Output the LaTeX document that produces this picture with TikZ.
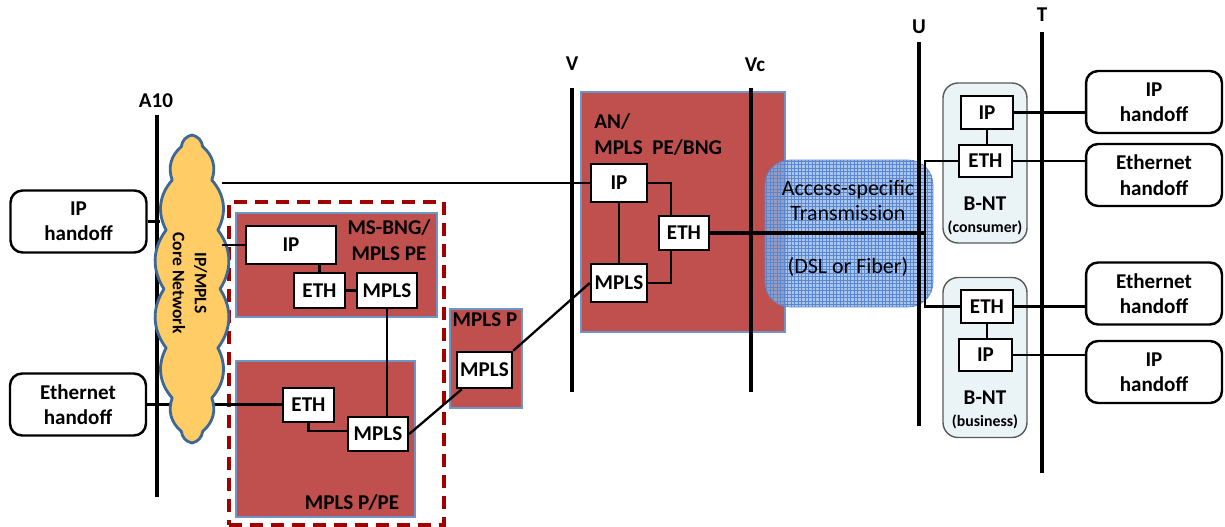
\documentclass[tikz,border=0pt]{standalone}
\usepackage{fontspec}
\setmainfont{Carlito}
\usetikzlibrary{calc}
\definecolor{boxred}{HTML}{C0504D}
\definecolor{boxedge}{HTML}{6E95C8}
\definecolor{framered}{HTML}{A00000}
\definecolor{cloudfill}{HTML}{FFCC66}
\definecolor{cloudedge}{HTML}{3D6797}
\definecolor{accfill}{HTML}{8FB3E6}
\definecolor{accgrid}{HTML}{5B87CF}
\definecolor{bntfill}{HTML}{EAF4F7}
\tikzset{
    protobox/.style={
        draw,
        fill=white,
        line width=1.4pt,
        inner sep=0pt,
        minimum height=0.7cm,
        font=\fontsize{12}{14}\selectfont\bfseries
    },
    handoff/.style={
        draw,
        fill=white,
        rounded corners=0.24cm,
        line width=1.4pt,
        minimum width=2.72cm,
        minimum height=1.24cm,
        align=center,
        font=\fontsize{12}{14.5}\selectfont\bfseries
    },
    element/.style={draw=boxedge, fill=boxred, line width=0.6pt, inner sep=0pt},
    ellabel/.style={inner sep=0pt, font=\fontsize{12}{15}\selectfont\bfseries},
    bnt/.style={draw=black!65, fill=bntfill, line width=0.8pt, rounded corners=0.3cm,
        minimum width=1.68cm, minimum height=3.2cm},
    refline/.style={line width=2.8pt},
    reflabel/.style={font=\fontsize{12}{14}\selectfont\bfseries},
    link/.style={line width=1.3pt}
}

\begin{document}
\begin{tikzpicture}[x=0.02cm, y=-0.02cm]
    \useasboundingbox (0,0) rectangle (1225,527);

    % network elements
    \node[draw=framered, line width=2.2pt, dash pattern=on 0.26cm off 0.16cm,
        minimum width=4.3cm, minimum height=6.46cm, inner sep=0pt] (peframe) at (336.5,363.5) {};
    \node[element, minimum width=4.02cm, minimum height=2.08cm] (msbng) at (336.5,265) {};
    \node[element, minimum width=3.58cm, minimum height=3.12cm] (ppe) at (325.5,439) {};
    \node[element, minimum width=1.44cm, minimum height=1.98cm] (mplsp) at (486,358.5) {};
    \node[element, minimum width=4.08cm, minimum height=4.8cm] (an) at (683,212) {};

    \node[ellabel, align=center] (msbnglbl) at (389,240) {MS-BNG/\\MPLS PE};
    \node[ellabel] (ppelbl) at (352,503) {MPLS P/PE};
    \node[ellabel] (mplsplbl) at (485,320) {MPLS P};
    \node[ellabel, align=left, anchor=west] (anlbl) at (594,134.5) {AN/\\MPLS\ \ PE/BNG};

    % access transmission
    \node[draw=accgrid, fill=accfill, fill opacity=0.75, rounded corners=0.5cm,
        minimum width=3.36cm, minimum height=2.94cm] (acc) at (849,233.5) {};
    \begin{scope}
        \clip[rounded corners=0.5cm] (acc.south west) rectangle (acc.north east);
        \draw[accgrid, line width=0.25pt] (acc.south west) grid[step=0.07cm] (acc.north east);
    \end{scope}
    \node[align=center, font=\fontsize{12.5}{14.2}\selectfont] (acctxt) at (848,200.5) {Access-specific\\Transmission};
    \node[font=\fontsize{12.5}{14.2}\selectfont] (accmedia) at (848,267) {(DSL or Fiber)};

    \node[bnt] (bntc) at (985,163) {};
    \node[bnt] (bntb) at (985,357.5) {};
    \node[align=center, font=\fontsize{12}{12.5}\selectfont\bfseries] (bntclbl) at (985,216)
        {B-NT\\{\fontsize{9}{10}\selectfont(consumer)}};
    \node[align=center, font=\fontsize{12}{12.5}\selectfont\bfseries] (bntblbl) at (985,409.5)
        {B-NT\\{\fontsize{9}{10}\selectfont(business)}};

    % reference points
    \foreach \name/\x/\ya/\yb/\lx/\ly in {A10/157/115/497/156/101, V/572/88/392/572/64,
        Vc/751/88/392/755/65, U/919/42/426/919/27, T/1042/32/473/1042/15} {
        \coordinate (\name top) at (\x,\ya);
        \coordinate (\name bot) at (\x,\yb);
        \draw[refline] (\name top) -- (\name bot);
        \node[reflabel] (\name lbl) at (\lx,\ly) {\name};
    }

    % protocol boxes
    \node[protobox, minimum width=1.8cm, minimum height=0.76cm] (msIP) at (291,245) {IP};
    \node[protobox, minimum width=1.02cm] (msETH) at (319.5,290.5) {ETH};
    \node[protobox, minimum width=1.2cm] (msMPLS) at (387,290.5) {MPLS};
    \node[protobox, minimum width=1.02cm, minimum height=0.68cm] (ppeETH) at (308.5,405) {ETH};
    \node[protobox, minimum width=1.2cm, minimum height=0.68cm] (ppeMPLS) at (378,434) {MPLS};
    \node[protobox, minimum width=1.1cm, minimum height=0.72cm] (pMPLS) at (484.5,370) {MPLS};
    \node[protobox, minimum width=1.12cm, minimum height=0.76cm] (anIP) at (619,183) {IP};
    \node[protobox, minimum width=1.0cm, minimum height=0.68cm] (anETH) at (684,233) {ETH};
    \node[protobox, minimum width=1.12cm, minimum height=0.76cm] (anMPLS) at (619,283) {MPLS};
    \node[protobox, minimum width=1.04cm, minimum height=0.66cm] (bcIP) at (987,112.5) {IP};
    \node[protobox, minimum width=1.06cm, minimum height=0.64cm] (bcETH) at (985.5,161) {ETH};
    \node[protobox, minimum width=1.04cm, minimum height=0.66cm] (bbETH) at (987,306.5) {ETH};
    \node[protobox, minimum width=1.06cm, minimum height=0.64cm] (bbIP) at (985.5,355) {IP};

    % handoffs
    \node[handoff] (hoIPL) at (78.5,221.5) {IP\\handoff};
    \node[handoff] (hoEthL) at (78,404.5) {Ethernet\\handoff};
    \node[handoff] (hoIPa) at (1154,102) {IP\\handoff};
    \node[handoff] (hoEtha) at (1154,175) {Ethernet\\handoff};
    \node[handoff] (hoEthb) at (1154,293.5) {Ethernet\\handoff};
    \node[handoff] (hoIPb) at (1154,372) {IP\\handoff};

    % links
    \draw[link] (hoIPL.east) -- ([xshift=0.06cm]hoIPL.east -| A10top);
    \draw[link] (hoEthL.east) -- (hoEthL.east -| ppeETH.west);
    \draw[link] (msIP.south -| msETH.north) -- (msETH.north);
    \draw[link] (msETH) -- (msMPLS);
    \draw[link] (msMPLS.south) -- (msMPLS.south |- ppeMPLS.north);
    \draw[link] (ppeETH.south) |- ([yshift=0.06cm]ppeMPLS.west);
    \draw[link] (ppeMPLS.east) -- ([xshift=0.12cm]pMPLS.south west);
    \draw[link] (pMPLS.north east) -- (anMPLS.west);
    \draw[link] (anIP) -- (anMPLS);
    \draw[link] (anIP.east) -| ([xshift=-0.26cm]anETH.north);
    \draw[link] (anMPLS.east) -| ([xshift=-0.26cm]anETH.south);
    \coordinate (split) at (925,233);
    \draw[line width=2pt] (anETH.east) -- (split);
    \draw[link] (bcETH.west) -| (split) |- (bbETH.west);
    \draw[link] (bcIP.south) -- (bcIP.south |- bcETH.north);
    \draw[link] (bbETH.south) -- (bbETH.south |- bbIP.north);
    \draw[link] (bcIP.east) -- (bcIP.east -| hoIPa.west);
    \draw[link] (bcETH.east) -- (bcETH.east -| hoEtha.west);
    \draw[link] (bbETH.east) -- (bbETH.east -| hoEthb.west);
    \draw[link] (bbIP.east) -- (bbIP.east -| hoIPb.west);

    % core network
    \begin{scope}[shift={(192,289)}]
        \draw[draw=cloudedge, fill=cloudfill, line width=1.6pt, line join=round]
            (0:28 and 154) \foreach \a in {22.5,45,...,360} { to[bend left=35] (\a:28 and 154) } -- cycle;
    \end{scope}
    \node[rotate=-90, align=center, font=\fontsize{10}{12.5}\selectfont\bfseries] (core) at (190,283) {IP/MPLS\\Core Network};
    \coordinate (coreedge) at (222,289);
    \draw[link] (anIP.west -| coreedge) -- (anIP.west);
    \draw[link] (msIP.west -| coreedge) -- (msIP.west);
\end{tikzpicture}
\end{document}
